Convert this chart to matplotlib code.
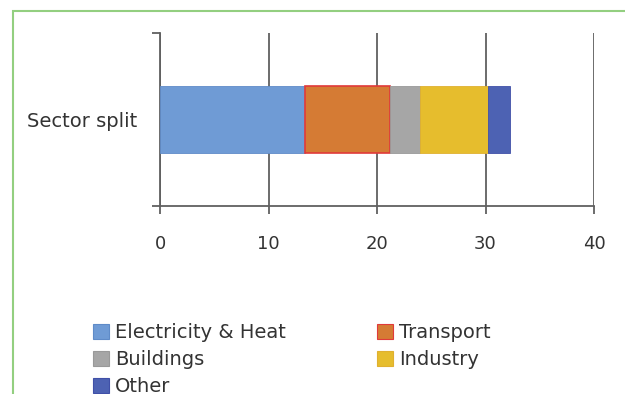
import matplotlib
matplotlib.use('Agg')
import matplotlib.pyplot as plt
from matplotlib.patches import Rectangle, Patch

plt.rcParams['font.family'] = ['DejaVu Sans']

# Sector shares (stacked on a single bar)
category = 'Sector split'
sectors = ['Electricity & Heat', 'Transport', 'Buildings', 'Industry', 'Other']
values = [13.4, 7.8, 2.8, 6.2, 2.1]
colors = ['#6f9bd5', '#d57b34', '#a6a6a6', '#e6bd2d', '#4d62b3']
edges = ['#5f8bc8', '#e03a3a', '#999999', '#e0b030', '#4050a8']
xticks = [0, 10, 20, 30, 40]

fig = plt.figure(figsize=(6.25, 3.94), dpi=100)

# green frame around the chart area
fig.patches.append(Rectangle((13 / 625, -0.05), 1.2, 1 - 11 / 394 + 0.05,
                             transform=fig.transFigure, fill=False,
                             edgecolor='#93cf80', linewidth=1.5, zorder=0))

ax = fig.add_axes([160 / 625, 1 - 206 / 394, 434 / 625, 173 / 394])

left = 0
for name, v, c, e in zip(sectors, values, colors, edges):
    ax.barh(0, v, left=left, height=0.393, color=c, edgecolor=e,
            linewidth=1.2 if name == 'Transport' else 0.6, label=name, zorder=3)
    left += v

ax.set_xlim(0, 40)
ax.set_ylim(-0.5, 0.5)
ax.set_xticks(xticks)
ax.set_xticklabels([str(t) for t in xticks])
ax.set_yticks([0])
ax.set_yticklabels([category])
ax.set_yticks([-0.5, 0.5], minor=True)

ax.grid(axis='x', color='#606060', linewidth=1.3, zorder=0)
for s in ['top', 'right']:
    ax.spines[s].set_visible(False)
for s in ['left', 'bottom']:
    ax.spines[s].set_color('#606060')
    ax.spines[s].set_linewidth(1.3)

ax.tick_params(axis='x', length=6, width=1.3, color='#606060', pad=15,
               labelsize=13, labelcolor='#333333')
ax.tick_params(axis='y', which='major', length=0, pad=16.5,
               labelsize=14, labelcolor='#333333')
ax.tick_params(axis='y', which='minor', length=6, width=1.3, color='#606060')

handles = [Patch(facecolor=c, edgecolor=e, linewidth=0.8) for c, e in zip(colors, edges)]
order = [0, 2, 4, 1, 3]
fig.legend([handles[i] for i in order], [sectors[i] for i in order],
           ncol=2, loc='upper left', bbox_to_anchor=(93 / 625, 1 - 323 / 394),
           frameon=False, fontsize=14, handlelength=0.82, handleheight=0.82,
           handletextpad=0.3, columnspacing=4.7, labelspacing=0.41,
           borderpad=0, borderaxespad=0, labelcolor='#333333')

fig.savefig('out.png', dpi=100)
